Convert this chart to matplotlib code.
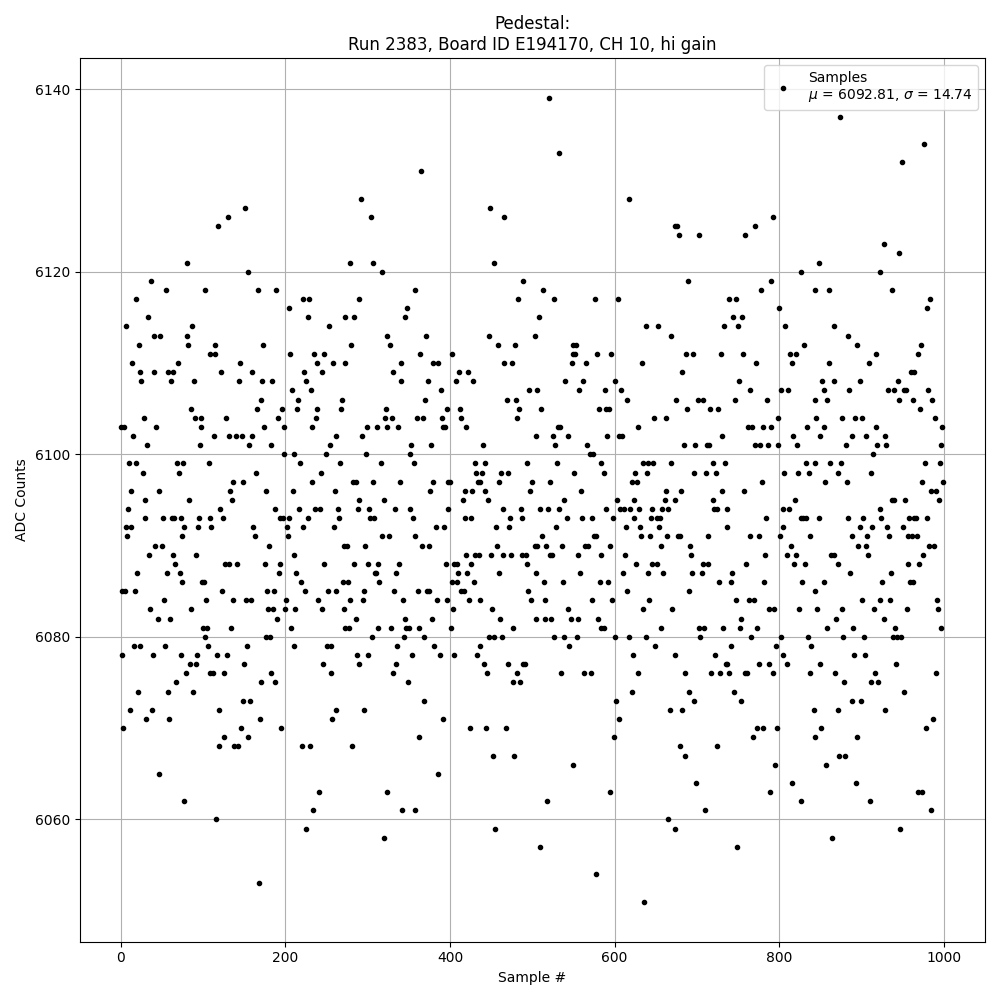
import numpy as np
import matplotlib
matplotlib.use("Agg")
import matplotlib.pyplot as plt

# (sample #, ADC counts), grouped by sample range
seg_000 = [(37,6119),(55,6118),(19,6117),(33,6115),(6,6114),(40,6113),(48,6113),(22,6112),(14,6110),(70,6110),
           (23,6109),(41,6109),(57,6109),(63,6109),(25,6108),(61,6108),(28,6104),(0,6103),(4,6103),(43,6103),
           (15,6102),(32,6101),(10,6099),(18,6099),(68,6099),(76,6099),(27,6098),(71,6098),(12,6096),(47,6096),
           (30,6095),(9,6094),(29,6093),(52,6093),(62,6093),(65,6093),(73,6093),(7,6092),(13,6092),(77,6092),
           (8,6091),(74,6091),(42,6090),(50,6090),(35,6089),(64,6089),(66,6088),(20,6087),(56,6087),(72,6087),
           (75,6086),(1,6085),(5,6085),(17,6085),(53,6084),(36,6083),(45,6082),(60,6082),(2,6078),(16,6079),
           (24,6079),(39,6078),(54,6079),(73,6078),(67,6075),(21,6074),(58,6074),(11,6072),(38,6072),(31,6071),
           (59,6071),(3,6070),(46,6065),(77,6062)]
seg_080 = [(151,6127),(118,6125),(130,6126),(81,6121),(155,6120),(102,6118),(87,6114),(80,6113),(82,6112),(108,6111),
           (114,6111),(115,6112),(122,6109),(145,6110),(144,6108),(159,6109),(89,6108),(86,6105),(90,6104),(97,6104),
           (98,6103),(128,6104),(96,6101),(113,6102),(131,6102),(140,6102),(147,6102),(156,6101),(160,6102),(107,6099),
           (148,6097),(137,6097),(133,6096),(135,6095),(83,6095),(95,6093),(109,6093),(124,6093),(121,6094),(94,6092),
           (110,6092),(91,6089),(127,6088),(132,6088),(141,6088),(99,6086),(101,6086),(123,6085),(104,6084),(136,6084),
           (152,6084),(158,6084),(85,6083),(100,6081),(105,6081),(134,6081),(103,6080),(106,6079),(93,6078),(84,6077),
           (92,6077),(79,6076),(108,6076),(112,6076),(117,6078),(126,6076),(129,6078),(154,6079),(150,6077),(88,6074),
           (119,6072),(149,6073),(157,6073),(146,6070),(125,6069),(155,6069),(120,6068),(138,6068),(143,6068),(116,6060)]
seg_160 = [(167,6118),(189,6118),(204,6116),(221,6117),(229,6117),(227,6115),(173,6112),(206,6111),(235,6111),(247,6111),
           (238,6110),(245,6109),(223,6109),(172,6108),(184,6108),(225,6108),(208,6107),(231,6107),(170,6106),(216,6106),
           (165,6105),(196,6105),(214,6105),(239,6105),(191,6104),(237,6104),(174,6103),(199,6103),(232,6103),(182,6101),
           (198,6100),(210,6100),(249,6100),(218,6099),(164,6098),(243,6098),(233,6097),(177,6096),(209,6096),(188,6094),
           (217,6094),(236,6094),(242,6094),(193,6093),(197,6093),(205,6093),(228,6093),(161,6092),(202,6092),(222,6092),
           (163,6091),(203,6091),(180,6090),(211,6089),(175,6088),(194,6088),(247,6088),(192,6087),(213,6087),(219,6086),
           (178,6085),(186,6085),(224,6085),(201,6084),(240,6084),(179,6083),(185,6083),(200,6083),(212,6083),(244,6083),
           (190,6082),(207,6081),(176,6080),(181,6080),(211,6079),(246,6077),(171,6075),(183,6076),(187,6075),(169,6071),
           (195,6070),(220,6068),(230,6068),(241,6063),(234,6061),(225,6059),(168,6053)]
seg_250 = [(292,6128),(304,6126),(278,6121),(307,6121),(318,6120),(290,6117),(253,6114),(273,6115),(283,6115),(323,6113),
           (280,6112),(327,6112),(258,6110),(272,6110),(331,6109),(269,6106),(268,6105),(322,6105),(321,6104),(329,6104),
           (299,6103),(311,6103),(324,6103),(293,6102),(261,6102),(254,6101),(298,6100),(266,6099),(316,6099),(282,6097),
           (286,6097),(306,6097),(260,6096),(289,6095),(320,6095),(264,6094),(288,6094),(302,6094),(333,6094),(265,6093),
           (303,6093),(308,6093),(259,6092),(317,6091),(326,6091),(271,6090),(275,6090),(297,6090),(284,6088),(300,6088),
           (312,6088),(309,6087),(310,6087),(334,6087),(270,6086),(276,6086),(314,6086),(252,6085),(262,6085),(296,6085),
           (332,6085),(279,6084),(294,6084),(271,6083),(286,6082),(273,6081),(277,6081),(313,6081),(328,6081),(305,6080),
           (251,6079),(256,6079),(287,6078),(301,6078),(290,6077),(255,6076),(331,6076),(262,6072),(295,6072),(257,6071),
           (281,6068),(324,6063),(320,6058)]
seg_335 = [(365,6131),(357,6118),(348,6116),(346,6115),(371,6113),(364,6111),(402,6111),(341,6110),(379,6110),(386,6110),
           (411,6109),(340,6108),(373,6108),(407,6108),(389,6107),(370,6106),(397,6105),(412,6105),(360,6104),(367,6104),
           (390,6104),(413,6104),(337,6103),(391,6103),(394,6103),(377,6101),(353,6101),(351,6100),(356,6099),(339,6097),
           (380,6097),(398,6097),(400,6097),(376,6096),(416,6095),(352,6094),(398,6094),(355,6093),(383,6092),(393,6092),
           (358,6091),(366,6090),(374,6090),(338,6088),(395,6088),(405,6088),(408,6088),(410,6087),(403,6086),(409,6086),
           (372,6085),(375,6085),(361,6085),(414,6085),(343,6084),(384,6084),(396,6084),(404,6083),(345,6082),(378,6082),
           (347,6081),(350,6081),(362,6081),(401,6081),(344,6080),(368,6080),(336,6079),(381,6079),(335,6077),(354,6078),
           (388,6078),(405,6078),(349,6075),(369,6073),(392,6071),(363,6069),(385,6065),(342,6061),(358,6061)]
seg_417 = [(449,6127),(466,6126),(454,6121),(489,6119),(483,6117),(447,6113),(458,6112),(479,6112),(466,6110),(475,6110),
           (422,6109),(428,6108),(496,6107),(469,6106),(480,6106),(484,6105),(482,6104),(420,6103),(440,6101),(430,6099),
           (443,6099),(493,6099),(432,6098),(439,6098),(462,6098),(470,6098),(434,6097),(437,6097),(459,6097),(500,6097),
           (418,6096),(427,6096),(442,6096),(497,6096),(446,6095),(465,6094),(486,6094),(418,6093),(425,6093),(473,6093),
           (487,6093),(456,6092),(472,6092),(457,6090),(419,6089),(431,6089),(435,6089),(450,6089),(464,6089),(474,6089),
           (488,6089),(492,6089),(426,6088),(494,6088),(421,6087),(460,6087),(429,6086),(417,6085),(495,6085),(423,6084),
           (436,6084),(499,6084),(451,6083),(461,6082),(477,6081),(448,6080),(453,6080),(463,6080),(436,6079),(433,6078),
           (441,6077),(471,6077),(489,6077),(491,6077),(445,6076),(482,6076),(476,6075),(485,6075),(424,6070),(444,6070),
           (468,6070),(452,6067),(478,6067),(455,6059)]
seg_503 = [(520,6139),(533,6133),(513,6118),(527,6117),(576,6117),(508,6115),(503,6113),(550,6112),(553,6112),(549,6111),
           (552,6111),(579,6111),(548,6110),(565,6110),(540,6108),(562,6108),(506,6107),(557,6107),(588,6107),(511,6105),
           (581,6105),(531,6103),(534,6103),(504,6102),(525,6102),(543,6102),(528,6101),(566,6101),(570,6100),(574,6100),
           (530,6099),(583,6099),(551,6098),(587,6098),(521,6097),(559,6096),(539,6095),(509,6094),(519,6094),(532,6094),
           (542,6093),(560,6093),(572,6093),(529,6092),(512,6091),(575,6091),(578,6091),(503,6090),(506,6090),(517,6090),
           (536,6090),(564,6090),(568,6090),(522,6089),(524,6089),(556,6089),(584,6089),(505,6087),(558,6087),(514,6086),
           (537,6086),(582,6086),(515,6084),(573,6084),(544,6083),(505,6082),(516,6082),(523,6082),(547,6082),(555,6082),
           (580,6082),(584,6081),(587,6081),(526,6080),(538,6080),(554,6080),(545,6079),(535,6076),(563,6076),(571,6076),
           (549,6066),(518,6062),(510,6057),(577,6054)]
seg_589 = [(618,6128),(604,6117),(638,6114),(653,6114),(669,6113),(596,6111),(633,6110),(600,6108),(608,6107),(615,6106),
           (590,6105),(593,6105),(648,6104),(662,6104),(629,6103),(591,6102),(605,6102),(609,6102),(634,6099),(640,6099),
           (647,6099),(668,6099),(625,6098),(639,6098),(621,6097),(627,6097),(663,6096),(661,6095),(603,6095),(624,6095),
           (673,6095),(589,6094),(607,6094),(612,6094),(619,6094),(630,6094),(645,6094),(658,6094),(665,6094),(598,6093),
           (623,6093),(644,6093),(651,6093),(655,6093),(614,6092),(631,6092),(654,6092),(632,6091),(643,6091),(664,6091),
           (657,6090),(594,6090),(613,6089),(626,6088),(646,6088),(652,6088),(610,6087),(641,6087),(659,6087),(592,6086),
           (615,6085),(597,6084),(642,6084),(635,6083),(670,6083),(656,6081),(601,6080),(617,6080),(638,6080),(649,6079),
           (622,6078),(628,6076),(621,6074),(602,6073),(605,6071),(667,6072),(599,6069),(595,6063),(665,6060),(673,6059),
           (636,6051)]
seg_674 = [(673,6125),(676,6125),(678,6124),(702,6124),(689,6119),(739,6117),(748,6117),(744,6115),(755,6115),(733,6114),
           (750,6114),(687,6111),(695,6111),(729,6111),(756,6111),(682,6109),(751,6108),(675,6106),(701,6106),(708,6106),
           (746,6106),(688,6105),(716,6105),(726,6105),(731,6102),(684,6101),(698,6101),(712,6101),(715,6101),(719,6099),
           (734,6099),(696,6098),(711,6098),(723,6098),(681,6096),(730,6096),(757,6096),(720,6095),(721,6094),(724,6094),
           (736,6094),(737,6092),(677,6091),(680,6091),(713,6091),(692,6090),(693,6089),(707,6088),(714,6088),(694,6087),
           (706,6087),(743,6087),(727,6086),(741,6086),(690,6085),(747,6084),(754,6082),(752,6081),(703,6081),(709,6081),
           (732,6081),(704,6080),(742,6079),(735,6077),(736,6077),(674,6078),(722,6078),(686,6076),(717,6076),(728,6076),
           (739,6076),(691,6074),(745,6074),(697,6073),(753,6073),(682,6072),(679,6068),(725,6068),(685,6067),(699,6064),
           (710,6061),(749,6057)]
seg_758 = [(793,6126),(771,6125),(758,6124),(827,6120),(790,6119),(778,6118),(800,6116),(807,6114),(830,6112),(813,6111),
           (821,6111),(816,6110),(772,6110),(764,6107),(802,6107),(811,6107),(785,6106),(798,6104),(762,6103),(767,6103),
           (780,6103),(790,6103),(834,6103),(817,6102),(770,6101),(777,6101),(786,6101),(799,6101),(822,6101),(832,6099),
           (806,6098),(823,6098),(836,6098),(779,6097),(819,6095),(805,6094),(812,6094),(784,6093),(826,6093),(829,6093),
           (833,6093),(804,6092),(765,6091),(776,6091),(801,6091),(838,6091),(814,6090),(783,6089),(810,6089),(820,6089),
           (760,6088),(818,6088),(831,6088),(782,6086),(828,6086),(763,6084),(769,6084),(787,6083),(794,6083),(824,6083),
           (773,6081),(766,6080),(802,6080),(835,6080),(796,6079),(839,6079),(804,6078),(758,6076),(761,6076),(775,6077),
           (788,6077),(809,6077),(792,6076),(837,6076),(842,6072),(773,6070),(780,6070),(797,6070),(768,6069),(795,6066),
           (815,6064),(789,6063),(826,6062)]
seg_843 = [(874,6137),(848,6121),(927,6123),(922,6120),(843,6118),(861,6118),(867,6114),(883,6113),(894,6112),(917,6111),
           (909,6110),(860,6110),(852,6108),(866,6108),(898,6108),(854,6107),(885,6107),(843,6106),(858,6106),(845,6104),
           (876,6104),(892,6104),(900,6104),(855,6103),(918,6103),(849,6102),(889,6102),(906,6102),(881,6101),(919,6101),
           (914,6100),(843,6099),(862,6099),(875,6099),(871,6098),(856,6097),(882,6097),(912,6098),(923,6094),(848,6093),
           (884,6093),(902,6093),(924,6093),(898,6092),(913,6092),(888,6091),(907,6091),(896,6090),(905,6090),(863,6089),
           (866,6089),(908,6089),(871,6088),(886,6087),(854,6086),(925,6086),(843,6085),(901,6084),(922,6084),(846,6083),
           (876,6083),(915,6083),(869,6082),(858,6081),(890,6081),(878,6080),(903,6080),(891,6078),(904,6078),(850,6077),
           (868,6076),(879,6075),(911,6075),(920,6075),(916,6076),(888,6073),(899,6073),(872,6072),(844,6069),(851,6070),
           (895,6069),(857,6066),(873,6067),(880,6067),(893,6064),(910,6062),(864,6058)]
seg_927 = [(976,6134),(949,6132),(945,6122),(937,6118),(983,6117),(980,6116),(972,6112),(968,6111),(960,6109),(964,6109),
           (932,6107),(940,6107),(951,6107),(954,6107),(944,6108),(946,6106),(963,6106),(981,6107),(986,6106),(971,6105),
           (989,6104),(998,6103),(928,6102),(930,6101),(996,6101),(977,6099),(995,6099),(973,6097),(999,6097),(985,6096),
           (991,6096),(994,6095),(937,6095),(940,6095),(953,6095),(958,6093),(964,6093),(966,6093),(979,6093),(931,6092),
           (950,6092),(933,6091),(956,6091),(961,6091),(967,6091),(982,6090),(988,6090),(975,6089),(970,6088),(957,6088),
           (936,6087),(959,6086),(962,6086),(934,6084),(992,6084),(955,6083),(993,6083),(927,6082),(941,6081),(997,6081),
           (938,6080),(943,6080),(948,6080),(942,6077),(990,6076),(952,6074),(929,6072),(987,6071),(978,6070),(969,6063),
           (974,6063),(984,6061),(947,6059)]

segments = [seg_000, seg_080, seg_160, seg_250, seg_335, seg_417,
            seg_503, seg_589, seg_674, seg_758, seg_843, seg_927]
pairs = [p for seg in segments for p in seg]
sample_idx = np.array([p[0] for p in pairs])
adc_counts = np.array([p[1] for p in pairs])

mu_text = "6092.81"
sigma_text = "14.74"
title = "Pedestal:\nRun 2383, Board ID E194170, CH 10, hi gain"

fig, ax = plt.subplots(figsize=(10, 10), dpi=100)
ax.plot(sample_idx, adc_counts, "k.",
        label="Samples\n$\\mu$ = %s, $\\sigma$ = %s" % (mu_text, sigma_text))
ax.set_title(title)
ax.set_xlabel("Sample #")
ax.set_ylabel("ADC Counts")
ax.set_xlim(-50, 1050)
ax.grid(True)
ax.legend(loc="upper right")
fig.tight_layout()
fig.savefig("out.png", dpi=100)
